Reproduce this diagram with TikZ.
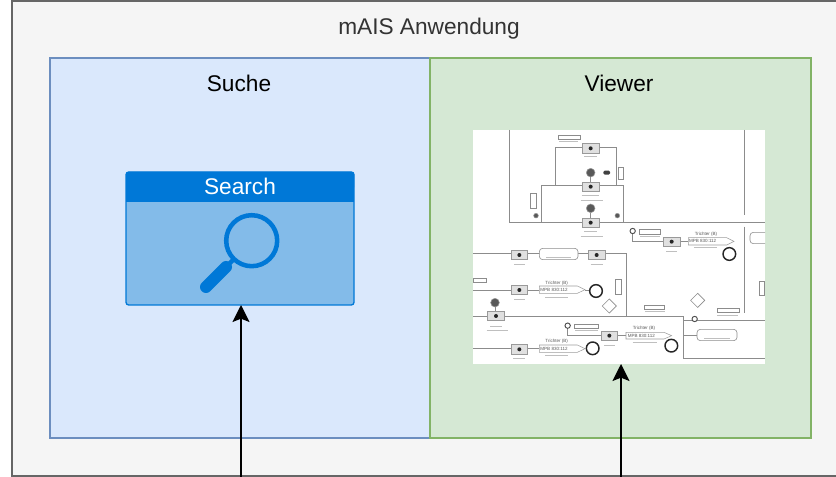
\documentclass[tikz,border=0pt]{standalone}
\usepackage{fontspec}
\setmainfont{Liberation Sans}
\usetikzlibrary{arrows.meta}
\definecolor{appfill}{HTML}{F5F5F5}
\definecolor{appline}{HTML}{666666}
\definecolor{suchefill}{HTML}{DAE8FC}
\definecolor{sucheline}{HTML}{6C8EBF}
\definecolor{viewerfill}{HTML}{D5E8D4}
\definecolor{viewerline}{HTML}{82B366}
\definecolor{searchblue}{HTML}{0078D7}
\definecolor{searchbody}{HTML}{83BBE9}
\tikzset{
  panel/.style={draw,line width=1pt,outer sep=0pt,inner sep=0pt,minimum width=285pt,minimum height=285pt},
  caption/.style={font=\fontsize{17}{20}\selectfont,inner sep=0pt},
  link/.style={draw=black,line width=1.3pt,-{Stealth[length=12.75pt,width=12.75pt,inset=2.5pt]}},
  schem/.style={draw=black!45,line width=0.55pt},
  thinline/.style={draw=black!38,line width=0.4pt},
  valve/.style={draw=black!40,line width=0.45pt,fill=black!12,minimum width=12.5pt,minimum height=7pt,inner sep=0pt},
  valvedot/.style={circle,fill=black!85,minimum size=3pt,inner sep=0pt},
  markdot/.style={circle,fill=black!65,draw=black!40,minimum size=6.5pt,inner sep=0pt},
  ring/.style={circle,draw=black!70,line width=0.7pt,fill=white,minimum size=4pt,inner sep=0pt},
  station/.style={circle,draw=black!85,line width=1.1pt,fill=white,minimum size=9.5pt,inner sep=0pt},
  pill/.style={rounded corners=2.5pt,draw=black!45,line width=0.45pt,fill=white,minimum height=8.5pt,inner sep=0pt},
  tag/.style={draw=black!45,line width=0.4pt,fill=white,minimum height=3.2pt,inner sep=0pt},
  gate/.style={draw=black!45,line width=0.45pt,fill=white,minimum size=7.5pt,inner sep=0pt,rotate=45},
  blurbar/.style={draw=black!25,line width=0.7pt},
  tiny/.style={font=\fontsize{3.4}{3.8}\selectfont,text=black!65,inner sep=0pt},
}
\begin{document}
\begin{tikzpicture}[x=0.75pt,y=-0.75pt]
    \useasboundingbox (0,0) rectangle (836,477);

    \node[panel,draw=appline,fill=appfill,line width=1.3pt,minimum width=621pt,minimum height=356.25pt] (app) at (426,238.5) {};
    \node[caption,text=black!80] (apptitle) at (429,28.5) {mAIS Anwendung};

    \node[panel,draw=sucheline,fill=suchefill] (suche) at (240,248) {};
    \node[panel,draw=viewerline,fill=viewerfill,minimum width=285.75pt] (viewer) at (620.5,248) {};
    \node[caption] (suchetitle) at (239,83) {Suche};
    \node[caption] (viewertitle) at (619,83) {Viewer};

    % search widget
    \draw[draw=searchblue,fill=searchbody,line width=1pt,rounded corners=2pt] (126,172) rectangle (354,305);
    \fill[searchblue,rounded corners=2pt] (126,172) rectangle (354,190);
    \fill[searchblue] (126,180) rectangle (354,202);
    \node[caption,text=white] (searchtitle) at (240,186) {Search};
    \draw[searchblue,line width=3.4pt] (251.7,240.7) circle (25.5);
    \draw[searchblue,line width=9pt,line cap=round] (206,287) -- (226,267);
    \draw[searchblue,line width=3.4pt] (224,269) -- (234,259);
    \coordinate (searchbox) at (240,305);

    % viewer image
    \node[fill=white,outer sep=0pt,inner sep=0pt,minimum width=219pt,minimum height=175.5pt] (plan) at (619,247) {};
    \begin{scope}[shift={(470,125)},x=0.25pt,y=-0.25pt]
    \clip (9,15) rectangle (885,717);
    \draw[schem] (118,15) -- (118,291) -- (885,291);
    \draw[schem] (822,15) -- (822,270);
    \draw[schem] (822,305) -- (822,565);
    \draw[schem] (255,180) -- (255,66) -- (440,66) -- (440,180);
    \draw[schem] (215,291) -- (215,180) -- (460,180) -- (460,291);
    \draw[schem] (10,385) -- (470,385) -- (470,573);
    \draw[schem] (10,573) -- (640,573) -- (640,700) -- (885,700);
    \draw[schem] (640,585) -- (885,585);
    \draw[schem] (488,325) -- (488,350) -- (655,350);
    \draw[schem] (10,495) -- (208,495);
    \draw[schem] (345,495) -- (360,495);
    \draw[schem] (10,671) -- (208,671);
    \draw[schem] (293,610) -- (293,632) -- (468,632);
    \draw[schem] (640,630) -- (682,630);
    \draw[schem] (362,155) -- (362,172);
    \draw[schem] (362,262) -- (362,282);
    \draw[schem] (75,545) -- (75,565);

    \node[valve] (v1) at (362,70) {};
    \node[valve] (v2) at (362,185) {};
    \node[valve] (v3) at (362,293) {};
    \node[valve] (v4) at (148,390) {};
    \node[valve] (v5) at (380,390) {};
    \node[valve] (v6) at (605,350) {};
    \node[valve] (v7) at (148,495) {};
    \node[valve] (v8) at (78,573) {};
    \node[valve] (v9) at (418,632) {};
    \node[valve] (v10) at (148,673) {};
    \node[valvedot] (d1) at (v1) {};
    \node[valvedot] (d2) at (v2) {};
    \node[valvedot] (d3) at (v3) {};
    \node[valvedot] (d4) at (v4) {};
    \node[valvedot] (d5) at (v5) {};
    \node[valvedot] (d6) at (v6) {};
    \node[valvedot] (d7) at (v7) {};
    \node[valvedot] (d8) at (v8) {};
    \node[valvedot] (d9) at (v9) {};
    \node[valvedot] (d10) at (v10) {};

    \draw[blurbar] (342,95) -- (382,95);
    \draw[blurbar] (335,212) -- (388,212);
    \draw[blurbar] (332,226) -- (398,226);
    \draw[blurbar] (342,320) -- (382,320);
    \draw[blurbar] (332,333) -- (398,333);
    \draw[blurbar] (132,418) -- (165,418);
    \draw[blurbar] (362,418) -- (398,418);
    \draw[blurbar] (588,378) -- (622,378);
    \draw[blurbar] (132,523) -- (165,523);
    \draw[blurbar] (60,603) -- (96,603);
    \draw[blurbar] (50,616) -- (115,616);
    \draw[blurbar] (402,660) -- (436,660);
    \draw[blurbar] (130,700) -- (165,700);

    \draw[thinline,fill=white] (655,338) -- (770,338) -- (792,349) -- (770,360) -- (655,360) -- cycle;
    \draw[thinline,fill=white] (208,483) -- (322,483) -- (345,494) -- (322,505) -- (208,505) -- cycle;
    \draw[thinline,fill=white] (208,660) -- (322,660) -- (345,671) -- (322,682) -- (208,682) -- cycle;
    \draw[thinline,fill=white] (468,622) -- (582,622) -- (605,632) -- (582,642) -- (468,642) -- cycle;
    \node[tiny] (mpb1) at (698,349) {MPB 830:112};
    \node[tiny] (mpb2) at (252,494) {MPB 830:112};
    \node[tiny] (mpb3) at (252,671) {MPB 830:112};
    \node[tiny] (mpb4) at (514,632) {MPB 830:112};
    \node[tiny] (chute1) at (708,328) {Trichter (B)};
    \node[tiny] (chute2) at (260,474) {Trichter (B)};
    \node[tiny] (chute3) at (260,650) {Trichter (B)};
    \node[tiny] (chute4) at (522,611) {Trichter (B)};
    \draw[blurbar] (672,368) -- (742,368);
    \draw[blurbar] (225,516) -- (295,516);
    \draw[blurbar] (225,692) -- (295,692);
    \draw[blurbar] (488,652) -- (560,652);

    \node[pill,minimum width=29pt] (silo1) at (266,387) {};
    \node[pill,minimum width=30pt] (silo2) at (741,630) {};
    \node[pill,minimum width=20pt] (silo3) at (880,339) {};
    \draw[blurbar] (228,397) -- (302,397);
    \draw[blurbar] (702,640) -- (780,640);

    \node[station] (s1) at (778,387) {};
    \node[station] (s2) at (378,498) {};
    \node[station] (s3) at (368,670) {};
    \node[station] (s4) at (604,662) {};
    \node[markdot] (m1) at (362,143) {};
    \node[markdot] (m2) at (362,250) {};
    \node[markdot] (m3) at (75,533) {};
    \node[markdot,minimum size=3.5pt] (m4) at (198,272) {};
    \node[markdot,minimum size=3.5pt] (m5) at (442,272) {};
    \node[ring] (r1) at (488,318) {};
    \node[ring] (r2) at (293,602) {};
    \node[ring] (r3) at (674,582) {};
    \node[gate] (g1) at (418,543) {};
    \node[gate] (g2) at (683,526) {};

    \node[tag,minimum width=16pt] (t1) at (298,37) {};
    \node[tag,minimum width=16pt] (t2) at (540,320) {};
    \node[tag,minimum width=18pt] (t3) at (350,603) {};
    \node[tag,minimum width=15pt] (t4) at (553,547) {};
    \node[tag,minimum width=17pt] (t5) at (775,556) {};
    \node[tag,minimum width=10pt] (t6) at (30,465) {};
    \node[tag,minimum width=4pt,minimum height=11pt] (t7) at (190,228) {};
    \node[tag,minimum width=4pt,minimum height=11pt] (t8) at (445,485) {};
    \node[tag,minimum width=4pt,minimum height=9pt] (t9) at (452,145) {};
    \node[tag,minimum width=4pt,minimum height=11pt] (t10) at (875,490) {};
    \draw[blurbar] (268,50) -- (325,50);
    \draw[blurbar] (510,333) -- (570,333);
    \draw[blurbar] (315,617) -- (385,617);
    \draw[blurbar] (525,560) -- (585,560);
    \draw[blurbar] (742,570) -- (805,570);
    \node[fill=black!75,minimum width=5pt,minimum height=3pt,inner sep=0pt,rounded corners=1pt] (btn) at (410,143) {};
    \end{scope}

    \coordinate (suchein) at (241,477);
    \coordinate (viewerin) at (621,477);
    \draw[link] (suchein) -- (suchein |- searchbox);
    \draw[link] (viewerin) -- (viewerin |- plan.south);
\end{tikzpicture}
\end{document}
